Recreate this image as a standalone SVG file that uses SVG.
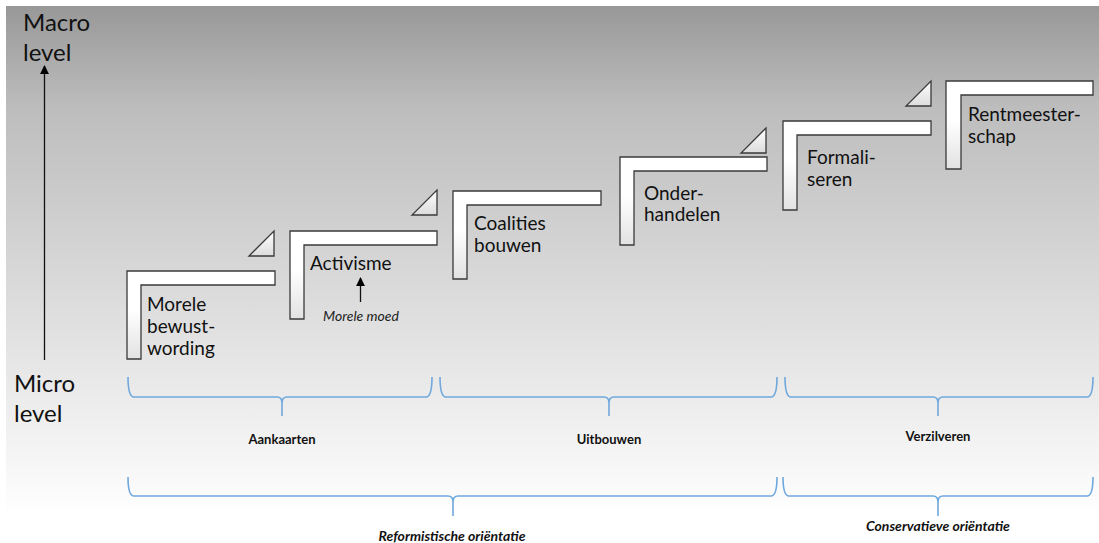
<svg xmlns="http://www.w3.org/2000/svg" width="1099" height="543" viewBox="0 0 1099 543">
<defs>
<linearGradient id="bg" x1="0" y1="0" x2="0" y2="1">
<stop offset="0" stop-color="#989898"/>
<stop offset="0.2" stop-color="#bdbdbd"/>
<stop offset="0.48" stop-color="#d4d4d4"/>
<stop offset="0.7" stop-color="#e6e6e6"/>
<stop offset="0.86" stop-color="#f3f3f3"/>
<stop offset="1" stop-color="#ffffff"/>
</linearGradient>
<linearGradient id="stepfill" x1="0" y1="0" x2="0" y2="1">
<stop offset="0" stop-color="#ffffff"/>
<stop offset="0.45" stop-color="#ffffff"/>
<stop offset="1" stop-color="#e2e2e2"/>
</linearGradient>
<linearGradient id="trifill" x1="0" y1="0" x2="0" y2="1">
<stop offset="0" stop-color="#ffffff"/>
<stop offset="1" stop-color="#dcdcdc"/>
</linearGradient>
<marker id="ah" viewBox="0 0 10 10" refX="9" refY="5" markerWidth="9" markerHeight="9" markerUnits="userSpaceOnUse" orient="auto">
<path d="M0,0 L10,5 L0,10 Z" fill="#000"/>
</marker>
</defs>
<style>
.step{fill:url(#stepfill);stroke:#3a3a3a;stroke-width:1.3}
.tri{fill:url(#trifill);stroke:#3a3a3a;stroke-width:1.3}
.lbl{font-family:Lato,"Open Sans",sans-serif;font-size:19px;fill:#111}
.axis{font-family:Lato,"Open Sans",sans-serif;font-size:24px;fill:#111}
.phase{font-family:Lato,"Open Sans",sans-serif;font-size:13px;font-weight:bold;fill:#111;text-anchor:middle}
.orient{font-family:Lato,"Open Sans",sans-serif;font-size:14px;font-weight:bold;font-style:italic;fill:#111;text-anchor:middle}
.note{font-family:Lato,"Open Sans",sans-serif;font-size:14px;font-style:italic;fill:#222;text-anchor:middle}
.brace{fill:none;stroke:#6fa8dc;stroke-width:1.6}
.arrow{stroke:#111;stroke-width:1.3;fill:none;marker-end:url(#ah)}
</style>
<rect x="6" y="6" width="1093" height="510" fill="url(#bg)"/>

<g id="axis-labels">
<text class="axis" x="23" y="31">Macro</text>
<text class="axis" x="23" y="61">level</text>
<text class="axis" x="14" y="392">Micro</text>
<text class="axis" x="14" y="422">level</text>
</g>

<g id="step1">
<path class="step" d="M127,271 H275 V285 H141 V359 H127 Z"/>
<text class="lbl" x="147" y="311">Morele</text>
<text class="lbl" x="147" y="333">bewust-</text>
<text class="lbl" x="147" y="355">wording</text>
</g>
<g id="tri1"><path class="tri" d="M249,256 H274 V231 Z"/></g>

<g id="step2">
<path class="step" d="M290,231 H437 V245 H304 V319 H290 Z"/>
<text class="lbl" x="310" y="270">Activisme</text>
<text class="note" x="361" y="321">Morele moed</text>
</g>
<g id="tri2"><path class="tri" d="M412,215 H437 V190 Z"/></g>

<g id="step3">
<path class="step" d="M453,191 H601 V205 H467 V279 H453 Z"/>
<text class="lbl" x="474" y="230">Coalities</text>
<text class="lbl" x="474" y="252">bouwen</text>
</g>
<g id="tri3"><path class="tri" d="M741,153 H766 V128 Z"/></g>

<g id="step4">
<path class="step" d="M620,157 H767 V171 H634 V245 H620 Z"/>
<text class="lbl" x="644" y="200">Onder-</text>
<text class="lbl" x="644" y="221">handelen</text>
</g>

<g id="step5">
<path class="step" d="M783,121 H931 V135 H797 V210 H783 Z"/>
<text class="lbl" x="807" y="164">Formali-</text>
<text class="lbl" x="807" y="186">seren</text>
</g>
<g id="tri4"><path class="tri" d="M906,106 H931 V81 Z"/></g>

<g id="step6">
<path class="step" d="M946,81 H1093 V95 H961 V169 H946 Z"/>
<text class="lbl" x="968" y="121">Rentmeester-</text>
<text class="lbl" x="968" y="143">schap</text>
</g>

<g id="connectors">
<line class="arrow" x1="44.5" y1="360" x2="44.5" y2="66"/>
<line class="arrow" x1="360.5" y1="302" x2="360.5" y2="278"/>
</g>

<g id="brace-aankaarten">
<path class="brace" d="M128,377 Q128,397 134,397 H277 Q282,397 282,403 V416 M282,403 Q282,397 287,397 H426 Q432,397 432,377"/>
<text class="phase" x="282" y="444">Aankaarten</text>
</g>
<g id="brace-uitbouwen">
<path class="brace" d="M440,377 Q440,397 446,397 H604 Q609,397 609,403 V416 M609,403 Q609,397 614,397 H771 Q777,397 777,377"/>
<text class="phase" x="609" y="444">Uitbouwen</text>
</g>
<g id="brace-verzilveren">
<path class="brace" d="M785,377 Q785,397 791,397 H933 Q938,397 938,403 V416 M938,403 Q938,397 943,397 H1087 Q1093,397 1093,377"/>
<text class="phase" x="938" y="441">Verzilveren</text>
</g>
<g id="brace-reformistisch">
<path class="brace" d="M128,477 Q128,496 134,496 H448 Q453,496 453,502 V516 M453,502 Q453,496 458,496 H771 Q777,496 777,477"/>
<text class="orient" x="452" y="541">Reformistische oriëntatie</text>
</g>
<g id="brace-conservatief">
<path class="brace" d="M783,477 Q783,496 789,496 H933 Q938,496 938,502 V516 M938,502 Q938,496 943,496 H1087 Q1093,496 1093,477"/>
<text class="orient" x="938" y="531">Conservatieve oriëntatie</text>
</g>
</svg>
